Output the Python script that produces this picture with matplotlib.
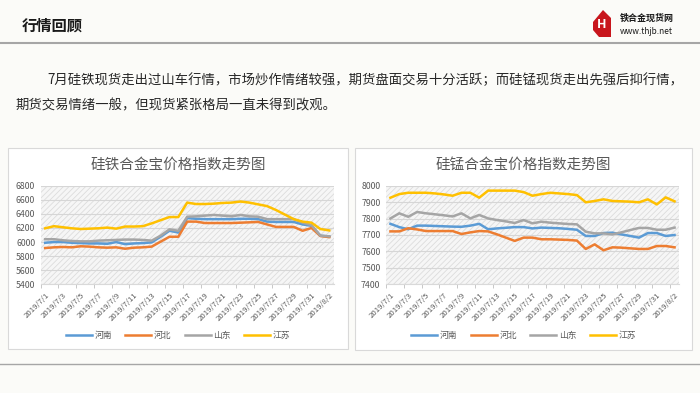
import matplotlib
matplotlib.use('Agg')
import numpy as np
import pandas as pd
import matplotlib.pyplot as plt
from matplotlib.patches import Rectangle, Polygon
from matplotlib.lines import Line2D

plt.rcParams['font.family'] = ['Noto Sans CJK SC', 'DejaVu Sans']
plt.rcParams['hatch.linewidth'] = 0.6

# --- data ---
dates = [d.strftime('%Y/%-m/%-d') for d in pd.date_range('2019-07-01', '2019-08-02')]
regions = ['河南', '河北', '山东', '江苏']
colors = ['#5B9BD5', '#ED7D31', '#A5A5A5', '#FFC000']

fe_henan = [5990, 6000, 6000, 5990, 5985, 5980, 5980, 5975, 6000, 5970, 5980, 5985, 5995, 6075, 6160, 6135,
            6340, 6330, 6325, 6325, 6325, 6325, 6330, 6330, 6325, 6290, 6285, 6285, 6285, 6250, 6230, 6090, 6080]
fe_hebei = [5915, 5925, 5930, 5925, 5940, 5935, 5925, 5920, 5925, 5905, 5920, 5925, 5935, 6005, 6075, 6075,
            6290, 6290, 6270, 6270, 6270, 6270, 6275, 6280, 6285, 6250, 6215, 6215, 6215, 6160, 6200, 6085, 6070]
fe_shandong = [6040, 6040, 6025, 6015, 6010, 6010, 6020, 6025, 6030, 6035, 6035, 6030, 6020, 6090, 6180, 6160,
               6360, 6365, 6375, 6385, 6375, 6365, 6385, 6365, 6360, 6325, 6325, 6325, 6325, 6275, 6240, 6090, 6080]
fe_jiangsu = [6195, 6225, 6210, 6195, 6185, 6190, 6195, 6205, 6190, 6220, 6220, 6225, 6265, 6310, 6355, 6355,
              6560, 6540, 6540, 6545, 6555, 6560, 6575, 6560, 6535, 6510, 6455, 6390, 6325, 6290, 6275, 6185, 6165]

mn_henan = [7768, 7748, 7735, 7757, 7757, 7755, 7753, 7751, 7750, 7757, 7768, 7735, 7740, 7744, 7748, 7748,
            7740, 7745, 7743, 7741, 7737, 7732, 7694, 7694, 7712, 7714, 7704, 7694, 7684, 7712, 7712, 7694, 7700]
mn_hebei = [7722, 7722, 7741, 7734, 7724, 7724, 7724, 7724, 7706, 7716, 7724, 7722, 7704, 7684, 7664, 7684,
            7684, 7674, 7674, 7672, 7670, 7666, 7615, 7643, 7607, 7625, 7623, 7619, 7615, 7615, 7633, 7633, 7625]
mn_shandong = [7801, 7832, 7811, 7840, 7832, 7826, 7820, 7813, 7832, 7801, 7822, 7801, 7791, 7783, 7773, 7791,
               7771, 7781, 7775, 7771, 7767, 7765, 7720, 7710, 7710, 7704, 7716, 7730, 7743, 7743, 7732, 7732, 7745]
mn_jiangsu = [7927, 7949, 7957, 7957, 7957, 7953, 7947, 7939, 7957, 7957, 7927, 7970, 7970, 7970, 7970, 7961,
              7939, 7949, 7957, 7953, 7949, 7943, 7899, 7907, 7917, 7907, 7905, 7903, 7899, 7917, 7886, 7929, 7905]

fe_ticks = [5400, 5600, 5800, 6000, 6200, 6400, 6600, 6800]
mn_ticks = [7400, 7500, 7600, 7700, 7800, 7900, 8000]

para1 = '7月硅铁现货走出过山车行情，市场炒作情绪较强，期货盘面交易十分活跃；而硅锰现货走出先强后抑行情，'
para2 = '期货交易情绪一般，但现货紧张格局一直未得到改观。'

W, H = 700, 393
fig = plt.figure(figsize=(7, 3.93), dpi=100)
fig.patch.set_facecolor('#FBFBF8')


def fx(x):
    return x / W


def fy(y):
    return 1 - y / H


# header
fig.text(fx(22), fy(26), '行情回顾', fontsize=11, fontweight='bold', va='center', color='#1A1A1A')
fig.add_artist(Line2D([0, 1], [fy(43), fy(43)], color='#A6A6A6', lw=1.5))
fig.add_artist(Line2D([0, 1], [fy(364), fy(364)], color='#A6A6A6', lw=1.0))

# logo
logo = [(593, 22), (603, 10), (611, 18), (611, 37), (599, 37), (593, 30)]
fig.add_artist(Polygon([(fx(a), fy(b)) for a, b in logo], closed=True, transform=fig.transFigure,
                       facecolor='#C8161D', edgecolor='none'))
fig.text(fx(602), fy(25), 'H', fontsize=9, fontweight='bold', color='white', ha='center', va='center')
fig.text(fx(620), fy(18), '铁合金现货网', fontsize=6.5, fontweight='bold', va='center', color='#1A1A1A')
fig.text(fx(620), fy(31), 'www.thjb.net', fontsize=6, va='center', color='#1A1A1A')

# paragraph
fig.text(fx(47), fy(80), para1, fontsize=9.6, va='center', color='#262626')
fig.text(fx(15), fy(105), para2, fontsize=9.6, va='center', color='#262626')


def draw_chart(box, plot_left, title, series, yticks):
    bx0, by0, bx1, by1 = box
    fig.add_artist(Rectangle((fx(bx0), fy(by1)), fx(bx1 - bx0), (by1 - by0) / H, transform=fig.transFigure,
                             facecolor='white', edgecolor='#D9D9D9', lw=0.8, zorder=-1))
    ax = fig.add_axes([fx(plot_left), fy(284.3), 293 / W, 98.6 / H])
    ax.set_zorder(2)
    ax.set_facecolor('white')
    ax.add_patch(Rectangle((0, 0), 1, 1, transform=ax.transAxes, facecolor='#F6F6F6',
                           edgecolor='#DCDCDC', hatch='//////', lw=0, zorder=0))
    x = np.arange(len(dates))
    for vals, name, c in zip(series, regions, colors):
        ax.plot(x, vals, color=c, lw=1.8, label=name, zorder=3, solid_joinstyle='round')
    ax.set_xlim(-0.5, len(dates) - 0.5)
    ax.set_ylim(yticks[0], yticks[-1])
    ax.set_yticks(yticks)
    ax.yaxis.grid(True, color='#D6D6D6', lw=0.8)
    ax.set_axisbelow(True)
    ax.set_xticks(x[::2])
    ax.set_xticklabels(dates[::2], rotation=45, ha='right', rotation_mode='anchor', fontsize=5.6,
                       color='#595959')
    ax.set_xticks(np.arange(-0.5, len(dates), 2), minor=True)
    ax.tick_params(axis='x', which='major', length=0, pad=5)
    ax.tick_params(axis='x', which='minor', length=3, color='#BFBFBF', width=0.6)
    ax.tick_params(axis='y', length=0, labelsize=6.3, labelcolor='#595959', pad=4)
    for s in ['top', 'left', 'right']:
        ax.spines[s].set_visible(False)
    ax.spines['bottom'].set_color('#D9D9D9')
    cx = (bx0 + bx1) / 2
    fig.text(fx(cx), fy(165), title, ha='center', va='center', fontsize=10.5, color='#595959',
             fontweight='medium')
    ax.legend(loc='center', bbox_to_anchor=(fx(cx), fy(335.7)), bbox_transform=fig.transFigure,
              ncol=4, frameon=False, fontsize=6.3, labelcolor='#595959', handlelength=3.0,
              columnspacing=1.5, handletextpad=0.3)
    return ax


draw_chart((8, 148, 348, 349), 40.7, '硅铁合金宝价格指数走势图',
           [fe_henan, fe_hebei, fe_shandong, fe_jiangsu], fe_ticks)
draw_chart((355, 148, 692, 350), 386, '硅锰合金宝价格指数走势图',
           [mn_henan, mn_hebei, mn_shandong, mn_jiangsu], mn_ticks)

fig.savefig('out.png', dpi=100, facecolor=fig.get_facecolor())
